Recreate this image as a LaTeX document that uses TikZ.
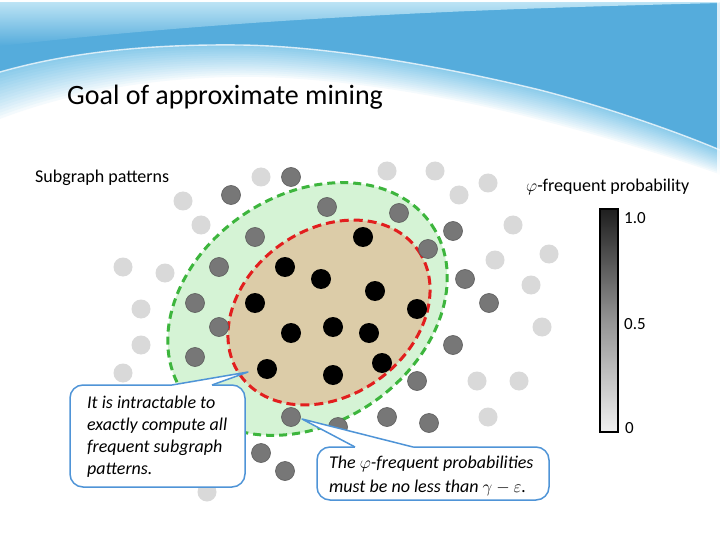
\documentclass[tikz,border=0pt]{standalone}
\usepackage{fontspec}
\setmainfont{Carlito}
\usetikzlibrary{calc,fadings}

\definecolor{bannerblue}{HTML}{55ACDC}
\definecolor{bandlight}{HTML}{86C9EA}
\definecolor{toplight}{HTML}{C8EAF8}
\definecolor{lightdot}{HTML}{D9D9D9}
\definecolor{graydot}{HTML}{777777}
\definecolor{grayedge}{HTML}{5C5C5C}
\definecolor{greenfill}{HTML}{D5F3D5}
\definecolor{greenline}{HTML}{3DB53D}
\definecolor{tanfill}{HTML}{DCCCA8}
\definecolor{redline}{HTML}{E21E1E}
\definecolor{calloutblue}{HTML}{4F94D7}

\tikzfading[name=topfade, top color=transparent!5, bottom color=transparent!100]

\begin{document}
\begin{tikzpicture}[x=1pt,y=-1pt,
  lightpt/.style={circle, fill=lightdot, minimum size=19pt, inner sep=0pt},
  graypt/.style={circle, fill=graydot, draw=grayedge, line width=0.6pt, minimum size=19pt, inner sep=0pt},
  blackpt/.style={circle, fill=black, minimum size=20pt, inner sep=0pt},
  calloutbox/.style={draw=calloutblue, fill=white, line width=1.5pt, rounded corners=13pt, inner sep=0pt},
  pointer/.style={draw=calloutblue, line width=1.5pt, line join=round},
  notetext/.style={anchor=base west, inner sep=0pt, font=\fontsize{18}{21}\selectfont\itshape},
  plaintext/.style={anchor=base west, inner sep=0pt, font=\fontsize{18}{20}\selectfont},
  scaletext/.style={anchor=base west, inner sep=0pt, font=\fontsize{17}{19}\selectfont},
]
\useasboundingbox (0,0) rectangle (720,540);
\fill[white] (0,0) rectangle (720,540);

% ---------- banner ----------
\coordinate (m0) at (0,72);   \coordinate (m1) at (70,52);  \coordinate (m2) at (150,44);
\coordinate (m3) at (240,45); \coordinate (m4) at (330,46); \coordinate (m5) at (450,68);
\coordinate (m6) at (540,90); \coordinate (m7) at (610,108);\coordinate (m8) at (680,133);
\coordinate (m9) at (720,150);
\coordinate (o0) at (0,122);  \coordinate (o1) at (70,95);  \coordinate (o2) at (150,80);
\coordinate (o3) at (240,79); \coordinate (o4) at (330,78); \coordinate (o5) at (450,98);
\coordinate (o6) at (540,122);\coordinate (o7) at (610,140);\coordinate (o8) at (680,162);
\coordinate (o9) at (720,176);

\foreach \k in {1,...,16}{
  \pgfmathsetmacro\t{\k/16}
  \pgfmathsetmacro\p{100*(\k/16)^0.85}
  \fill[bandlight!\p!white] (0,0) -- (720,0) -- ($(o9)!\t!(m9)$)
    .. controls ($(o8)!\t!(m8)$) and ($(o7)!\t!(m7)$) .. ($(o6)!\t!(m6)$)
    .. controls ($(o5)!\t!(m5)$) and ($(o4)!\t!(m4)$) .. ($(o3)!\t!(m3)$)
    .. controls ($(o2)!\t!(m2)$) and ($(o1)!\t!(m1)$) .. ($(o0)!\t!(m0)$) -- cycle;
}
\fill[bannerblue] (0,0) -- (720,0) -- (m9) .. controls (m8) and (m7) .. (m6)
  .. controls (m5) and (m4) .. (m3) .. controls (m2) and (m1) .. (m0) -- cycle;
\fill[toplight, path fading=topfade] (0,0) -- (720,0) -- (720,3)
  .. controls (520,8) and (260,16) .. (0,46) -- cycle;
\draw[white, line width=1.4pt, opacity=0.75] (m0) .. controls (m1) and (m2) .. (m3)
  .. controls (m4) and (m5) .. (m6) .. controls (m7) and (m8) .. (m9);
\fill[white] (0,0) rectangle (720,2);
\fill[white, opacity=0.8] (717,0) rectangle (720,178);

% ---------- regions ----------
\path[shift={(307.5,309)}, rotate=34, fill=greenfill, draw=greenline, line width=3pt,
      dash pattern=on 8pt off 5pt] (0,0) ellipse [x radius=150, y radius=114];
\path[shift={(329,312.5)}, rotate=35, fill=tanfill, draw=redline, line width=3pt,
      dash pattern=on 9pt off 5pt] (0,0) ellipse [x radius=108.7, y radius=83.3];

% ---------- dots ----------
\foreach \x/\y [count=\i] in {261/177, 387/171, 435/171, 488/183, 459/195, 183/201, 201/225,
   513/225, 549/254, 495/260, 123/267, 165/273, 531/285, 141/309, 542/327, 141/345,
   123/373, 477/381, 519/381, 488/417, 207/492}
  \node[lightpt] (l\i) at (\x,\y) {};
\foreach \x/\y [count=\i] in {291/177, 231/195, 327/207, 399/213, 453/231, 255/237, 428/249,
   219/267, 465/279, 195/303, 489/303, 219/327, 195/357, 453/345, 417/381, 291/417,
   387/417, 429/423, 338/427, 261/453, 285/471}
  \node[graypt] (g\i) at (\x,\y) {};
\foreach \x/\y [count=\i] in {363/237, 285/267, 321/279, 375/291, 255/303, 417/309, 291/333,
   333/327, 369/333, 382/363, 267/369, 333/375}
  \node[blackpt] (b\i) at (\x,\y) {};

% ---------- callout 1 ----------
\node[calloutbox, minimum width=175pt, minimum height=102pt] (box1) at (157.5,436) {};
\coordinate (tip1) at (248,372);
\coordinate (p1a) at (172,385);
\coordinate (p1b) at (212,385);
\fill[white] (p1a) -- (tip1) -- (p1b) -- ($(p1b)+(0,2)$) -- ($(p1a)+(0,2)$) -- cycle;
\draw[pointer] (p1a) -- (tip1) -- (p1b);
\node[notetext] (n1a) at (87,408) {It is intractable to};
\node[notetext] (n1b) at (87,430) {exactly compute all};
\node[notetext] (n1c) at (87,452) {frequent subgraph};
\node[notetext] (n1d) at (87,474) {patterns.};

% ---------- callout 2 ----------
\node[calloutbox, minimum width=232pt, minimum height=53pt] (box2) at (433,473.5) {};
\coordinate (tip2) at (302,419);
\coordinate (p2a) at (355,447);
\coordinate (p2b) at (413,447);
\fill[white] (p2a) -- (tip2) -- (p2b) -- ($(p2b)+(0,2)$) -- ($(p2a)+(0,2)$) -- cycle;
\draw[pointer] (p2a) -- (tip2) -- (p2b);
\node[notetext] (n2a) at (329,468) {The $\varphi$-frequent probabilities};
\node[notetext] (n2b) at (329,492) {must be no less than $\gamma-\varepsilon$.};

% ---------- colour bar ----------
\node[draw=black, line width=2pt, minimum width=18pt, minimum height=223pt, inner sep=0pt,
      top color=black!88, bottom color=black!6, middle color=black!42] (bar) at (609,320.5) {};
\node[scaletext] (s10) at (624,224) {1.0};
\node[scaletext] (s05) at (624,329) {0.5};
\node[scaletext] (s00) at (625,433) {0};

% ---------- texts ----------
\node[anchor=base west, inner sep=0pt, font=\fontsize{28}{30}\selectfont] (title) at (67,105) {Goal of approximate mining};
\node[plaintext] (subg) at (35,183) {Subgraph patterns};
\node[plaintext] (phil) at (526,192) {$\varphi$-frequent probability};
\end{tikzpicture}
\end{document}
